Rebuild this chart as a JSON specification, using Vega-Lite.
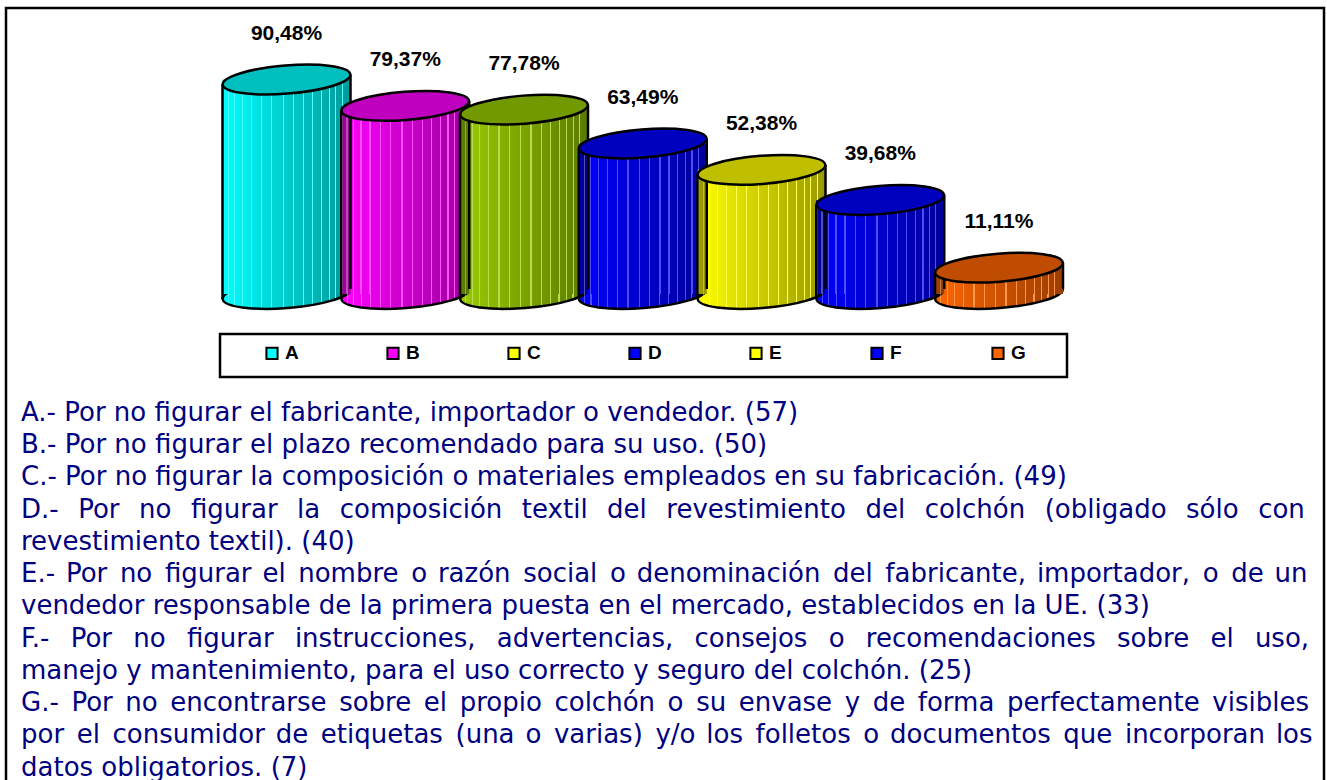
{
  "$schema": "https://vega.github.io/schema/vega-lite/v6.json",
  "width": 1318,
  "height": 772,
  "autosize": "none",
  "padding": {"left": 6, "top": 8, "right": 3, "bottom": 0},
  "background": "white",
  "config": {"view": {"stroke": "#000", "strokeWidth": 2.5, "strokeDash": [2090, 1318, 772]}},
  "datasets": {
    "bars": [
      {"k": "A", "i": 1, "v": 90.48, "label": "90,48%"},
      {"k": "B", "i": 2, "v": 79.37, "label": "79,37%"},
      {"k": "C", "i": 3, "v": 77.78, "label": "77,78%"},
      {"k": "D", "i": 4, "v": 63.49, "label": "63,49%"},
      {"k": "E", "i": 5, "v": 52.38, "label": "52,38%"},
      {"k": "F", "i": 6, "v": 39.68, "label": "39,68%"},
      {"k": "G", "i": 7, "v": 11.11, "label": "11,11%"}
    ],
    "lines": [
      {"line": 0, "t": "A.- Por no figurar el fabricante, importador o vendedor. (57)"},
      {"line": 1, "t": "B.- Por no figurar el plazo recomendado para su uso. (50)"},
      {"line": 2, "t": "C.- Por no figurar la composición o materiales empleados en su fabricación. (49)"},
      {"line": 3, "t": "D.-\u2002\u2005Por\u2002\u2005no\u2002\u2005figurar\u2002\u2005la\u2002\u2005composición\u2002\u2005textil\u2002\u2005del\u2002\u2005revestimiento\u2002\u2005del\u2002\u2005colchón\u2002\u2005(obligado\u2002\u2005sólo\u2002\u2005con"},
      {"line": 4, "t": "revestimiento textil). (40)"},
      {"line": 5, "t": "E.- \u200APor \u2006no \u2006figurar \u200Ael \u2006nombre \u2006o \u200Arazón \u2006social \u2006o \u200Adenominación \u2006del \u2006fabricante, \u200Aimportador, \u2006o \u2006de \u200Aun"},
      {"line": 6, "t": "vendedor responsable de la primera puesta en el mercado, establecidos en la UE. (33)"},
      {"line": 7, "t": "F.-\u2002\u2008Por\u2002\u2008no\u2002\u2008figurar\u2002\u2008instrucciones,\u2002\u2008advertencias,\u2002\u2008consejos\u2002\u2008o\u2002\u2008recomendaciones\u2002\u2008sobre\u2002\u2008el\u2002\u2008uso,"},
      {"line": 8, "t": "manejo y mantenimiento, para el uso correcto y seguro del colchón. (25)"},
      {"line": 9, "t": "G.- \u2006Por \u2006no \u2006encontrarse \u2006sobre \u2006el \u2006propio \u2006colchón \u2006o \u2006su \u2006envase \u2006y \u2006de \u2006forma \u2006perfectamente \u2006visibles"},
      {"line": 10, "t": "por \u2006el \u2006consumidor \u200Ade \u2006etiquetas \u2006(una \u200Ao \u2006varias) \u2006y/o \u200Alos \u2006folletos \u2006o \u200Adocumentos \u2006que \u2006incorporan \u200Alos"},
      {"line": 11, "t": "datos obligatorios. (7)"}
    ]
  },
  "layer": [
    {
      "data": {"name": "bars"},
      "encoding": {
        "x": {"field": "i", "type": "quantitative", "scale": {"domain": [1, 7], "range": [275.5, 998], "nice": false, "zero": false}, "axis": null}
      },
      "layer": [
        {
          "mark": {"type": "point", "shape": "M0.9969,-0.0785C1.0065,0.0426,0.5679,0.176,0.0173,0.2193C-0.5333,0.2626,-0.9874,0.1996,-0.9969,0.0785C-1.0065,-0.0426,-0.5679,-0.176,-0.0173,-0.2193C0.5333,-0.2626,0.9874,-0.1996,0.9969,-0.0785Z", "size": 16384, "filled": true, "opacity": 1, "strokeWidth": 0},
          "encoding": {
            "y": {"datum": 0, "type": "quantitative", "scale": {"domain": [0, 100], "range": [286, 49], "nice": false, "zero": false}, "axis": null},
            "fill": {"field": "k", "type": "nominal", "scale": {"domain": ["A", "B", "C", "D", "E", "F", "G"], "range": ["#00FFFF", "#FF00FF", "#99CC00", "#0000FF", "#FFFF00", "#0000FF", "#FF6600"]}, "legend": null}
          }
        },
        {
          "mark": {"type": "point", "shape": "M0.9969,-0.0785C1.0065,0.0426,0.5679,0.176,0.0173,0.2193C-0.5333,0.2626,-0.9874,0.1996,-0.9969,0.0785C-1.0065,-0.0426,-0.5679,-0.176,-0.0173,-0.2193C0.5333,-0.2626,0.9874,-0.1996,0.9969,-0.0785Z", "size": 16384, "filled": true, "opacity": 1,
            "fill": {"gradient": "linear", "x1": 0, "y1": 0, "x2": 1, "y2": 0, "stops": [
              {"offset": 0, "color": "rgba(0,0,0,0)"},
              {"offset": 0.04, "color": "rgba(0,0,0,0.016)"}, {"offset": 0.04, "color": "rgba(255,255,255,0.3)"}, {"offset": 0.049, "color": "rgba(255,255,255,0.3)"}, {"offset": 0.049, "color": "rgba(0,0,0,0.0196)"},
              {"offset": 0.09, "color": "rgba(0,0,0,0.036)"}, {"offset": 0.09, "color": "rgba(255,255,255,0.3)"}, {"offset": 0.099, "color": "rgba(255,255,255,0.3)"}, {"offset": 0.099, "color": "rgba(0,0,0,0.0396)"},
              {"offset": 0.15, "color": "rgba(0,0,0,0.06)"}, {"offset": 0.15, "color": "rgba(255,255,255,0.3)"}, {"offset": 0.159, "color": "rgba(255,255,255,0.3)"}, {"offset": 0.159, "color": "rgba(0,0,0,0.0636)"},
              {"offset": 0.22, "color": "rgba(0,0,0,0.088)"}, {"offset": 0.22, "color": "rgba(255,255,255,0.3)"}, {"offset": 0.229, "color": "rgba(255,255,255,0.3)"}, {"offset": 0.229, "color": "rgba(0,0,0,0.0916)"},
              {"offset": 0.3, "color": "rgba(0,0,0,0.12)"}, {"offset": 0.3, "color": "rgba(255,255,255,0.3)"}, {"offset": 0.309, "color": "rgba(255,255,255,0.3)"}, {"offset": 0.309, "color": "rgba(0,0,0,0.1236)"},
              {"offset": 0.38, "color": "rgba(0,0,0,0.152)"}, {"offset": 0.38, "color": "rgba(255,255,255,0.3)"}, {"offset": 0.389, "color": "rgba(255,255,255,0.3)"}, {"offset": 0.389, "color": "rgba(0,0,0,0.1556)"},
              {"offset": 0.47, "color": "rgba(0,0,0,0.188)"}, {"offset": 0.47, "color": "rgba(255,255,255,0.3)"}, {"offset": 0.479, "color": "rgba(255,255,255,0.3)"}, {"offset": 0.479, "color": "rgba(0,0,0,0.1916)"},
              {"offset": 0.55, "color": "rgba(0,0,0,0.22)"}, {"offset": 0.55, "color": "rgba(255,255,255,0.3)"}, {"offset": 0.559, "color": "rgba(255,255,255,0.3)"}, {"offset": 0.559, "color": "rgba(0,0,0,0.2236)"},
              {"offset": 0.63, "color": "rgba(0,0,0,0.252)"}, {"offset": 0.63, "color": "rgba(255,255,255,0.3)"}, {"offset": 0.639, "color": "rgba(255,255,255,0.3)"}, {"offset": 0.639, "color": "rgba(0,0,0,0.2556)"},
              {"offset": 0.7, "color": "rgba(0,0,0,0.28)"}, {"offset": 0.7, "color": "rgba(255,255,255,0.3)"}, {"offset": 0.709, "color": "rgba(255,255,255,0.3)"}, {"offset": 0.709, "color": "rgba(0,0,0,0.2836)"},
              {"offset": 0.77, "color": "rgba(0,0,0,0.308)"}, {"offset": 0.77, "color": "rgba(255,255,255,0.3)"}, {"offset": 0.779, "color": "rgba(255,255,255,0.3)"}, {"offset": 0.779, "color": "rgba(0,0,0,0.3116)"},
              {"offset": 0.83, "color": "rgba(0,0,0,0.332)"}, {"offset": 0.83, "color": "rgba(255,255,255,0.3)"}, {"offset": 0.839, "color": "rgba(255,255,255,0.3)"}, {"offset": 0.839, "color": "rgba(0,0,0,0.3356)"},
              {"offset": 0.88, "color": "rgba(0,0,0,0.352)"}, {"offset": 0.88, "color": "rgba(255,255,255,0.3)"}, {"offset": 0.889, "color": "rgba(255,255,255,0.3)"}, {"offset": 0.889, "color": "rgba(0,0,0,0.3556)"},
              {"offset": 0.93, "color": "rgba(0,0,0,0.372)"}, {"offset": 0.93, "color": "rgba(255,255,255,0.3)"}, {"offset": 0.939, "color": "rgba(255,255,255,0.3)"}, {"offset": 0.939, "color": "rgba(0,0,0,0.3756)"},
              {"offset": 1, "color": "rgba(0,0,0,0.4)"}]},
            "stroke": "#000", "strokeWidth": 2.5},
          "encoding": {
            "y": {"datum": 0, "type": "quantitative", "scale": {"domain": [0, 100], "range": [286, 49], "nice": false, "zero": false}, "axis": null}
          }
        },
        {
          "mark": {"type": "bar", "size": 128},
          "encoding": {
            "y": {"field": "v", "type": "quantitative", "scale": {"domain": [0, 100], "range": [286, 49], "nice": false, "zero": false}, "axis": null},
            "y2": {"datum": 0},
            "fill": {"field": "k", "type": "nominal", "scale": {"domain": ["A", "B", "C", "D", "E", "F", "G"], "range": ["#00FFFF", "#FF00FF", "#99CC00", "#0000FF", "#FFFF00", "#0000FF", "#FF6600"]}, "legend": null}
          }
        },
        {
          "mark": {"type": "bar", "size": 128,
            "fill": {"gradient": "linear", "x1": 0, "y1": 0, "x2": 1, "y2": 0, "stops": [
              {"offset": 0, "color": "rgba(0,0,0,0)"},
              {"offset": 0.04, "color": "rgba(0,0,0,0.016)"}, {"offset": 0.04, "color": "rgba(255,255,255,0.3)"}, {"offset": 0.049, "color": "rgba(255,255,255,0.3)"}, {"offset": 0.049, "color": "rgba(0,0,0,0.0196)"},
              {"offset": 0.09, "color": "rgba(0,0,0,0.036)"}, {"offset": 0.09, "color": "rgba(255,255,255,0.3)"}, {"offset": 0.099, "color": "rgba(255,255,255,0.3)"}, {"offset": 0.099, "color": "rgba(0,0,0,0.0396)"},
              {"offset": 0.15, "color": "rgba(0,0,0,0.06)"}, {"offset": 0.15, "color": "rgba(255,255,255,0.3)"}, {"offset": 0.159, "color": "rgba(255,255,255,0.3)"}, {"offset": 0.159, "color": "rgba(0,0,0,0.0636)"},
              {"offset": 0.22, "color": "rgba(0,0,0,0.088)"}, {"offset": 0.22, "color": "rgba(255,255,255,0.3)"}, {"offset": 0.229, "color": "rgba(255,255,255,0.3)"}, {"offset": 0.229, "color": "rgba(0,0,0,0.0916)"},
              {"offset": 0.3, "color": "rgba(0,0,0,0.12)"}, {"offset": 0.3, "color": "rgba(255,255,255,0.3)"}, {"offset": 0.309, "color": "rgba(255,255,255,0.3)"}, {"offset": 0.309, "color": "rgba(0,0,0,0.1236)"},
              {"offset": 0.38, "color": "rgba(0,0,0,0.152)"}, {"offset": 0.38, "color": "rgba(255,255,255,0.3)"}, {"offset": 0.389, "color": "rgba(255,255,255,0.3)"}, {"offset": 0.389, "color": "rgba(0,0,0,0.1556)"},
              {"offset": 0.47, "color": "rgba(0,0,0,0.188)"}, {"offset": 0.47, "color": "rgba(255,255,255,0.3)"}, {"offset": 0.479, "color": "rgba(255,255,255,0.3)"}, {"offset": 0.479, "color": "rgba(0,0,0,0.1916)"},
              {"offset": 0.55, "color": "rgba(0,0,0,0.22)"}, {"offset": 0.55, "color": "rgba(255,255,255,0.3)"}, {"offset": 0.559, "color": "rgba(255,255,255,0.3)"}, {"offset": 0.559, "color": "rgba(0,0,0,0.2236)"},
              {"offset": 0.63, "color": "rgba(0,0,0,0.252)"}, {"offset": 0.63, "color": "rgba(255,255,255,0.3)"}, {"offset": 0.639, "color": "rgba(255,255,255,0.3)"}, {"offset": 0.639, "color": "rgba(0,0,0,0.2556)"},
              {"offset": 0.7, "color": "rgba(0,0,0,0.28)"}, {"offset": 0.7, "color": "rgba(255,255,255,0.3)"}, {"offset": 0.709, "color": "rgba(255,255,255,0.3)"}, {"offset": 0.709, "color": "rgba(0,0,0,0.2836)"},
              {"offset": 0.77, "color": "rgba(0,0,0,0.308)"}, {"offset": 0.77, "color": "rgba(255,255,255,0.3)"}, {"offset": 0.779, "color": "rgba(255,255,255,0.3)"}, {"offset": 0.779, "color": "rgba(0,0,0,0.3116)"},
              {"offset": 0.83, "color": "rgba(0,0,0,0.332)"}, {"offset": 0.83, "color": "rgba(255,255,255,0.3)"}, {"offset": 0.839, "color": "rgba(255,255,255,0.3)"}, {"offset": 0.839, "color": "rgba(0,0,0,0.3356)"},
              {"offset": 0.88, "color": "rgba(0,0,0,0.352)"}, {"offset": 0.88, "color": "rgba(255,255,255,0.3)"}, {"offset": 0.889, "color": "rgba(255,255,255,0.3)"}, {"offset": 0.889, "color": "rgba(0,0,0,0.3556)"},
              {"offset": 0.93, "color": "rgba(0,0,0,0.372)"}, {"offset": 0.93, "color": "rgba(255,255,255,0.3)"}, {"offset": 0.939, "color": "rgba(255,255,255,0.3)"}, {"offset": 0.939, "color": "rgba(0,0,0,0.3756)"},
              {"offset": 1, "color": "rgba(0,0,0,0.4)"}]}},
          "encoding": {
            "y": {"field": "v", "type": "quantitative", "scale": {"domain": [0, 100], "range": [286, 49], "nice": false, "zero": false}, "axis": null},
            "y2": {"datum": 0}
          }
        },
        {
          "mark": {"type": "rule", "xOffset": -64, "yOffset": 5, "y2Offset": 5, "stroke": "#000", "strokeWidth": 2.5},
          "encoding": {
            "y": {"field": "v", "type": "quantitative", "scale": {"domain": [0, 100], "range": [286, 49], "nice": false, "zero": false}, "axis": null},
            "y2": {"datum": 0}
          }
        },
        {
          "mark": {"type": "rule", "xOffset": 64, "yOffset": -5, "y2Offset": -5, "stroke": "#000", "strokeWidth": 2.5},
          "encoding": {
            "y": {"field": "v", "type": "quantitative", "scale": {"domain": [0, 100], "range": [286, 49], "nice": false, "zero": false}, "axis": null},
            "y2": {"datum": 0}
          }
        },
        {
          "mark": {"type": "point", "shape": "M0.9969,-0.0785C1.0065,0.0426,0.5679,0.176,0.0173,0.2193C-0.5333,0.2626,-0.9874,0.1996,-0.9969,0.0785C-1.0065,-0.0426,-0.5679,-0.176,-0.0173,-0.2193C0.5333,-0.2626,0.9874,-0.1996,0.9969,-0.0785Z", "size": 16384, "filled": true, "opacity": 1, "strokeWidth": 0},
          "encoding": {
            "y": {"field": "v", "type": "quantitative", "scale": {"domain": [0, 100], "range": [286, 49], "nice": false, "zero": false}, "axis": null},
            "fill": {"field": "k", "type": "nominal", "scale": {"domain": ["A", "B", "C", "D", "E", "F", "G"], "range": ["#00FFFF", "#FF00FF", "#99CC00", "#0000FF", "#FFFF00", "#0000FF", "#FF6600"]}, "legend": null}
          }
        },
        {
          "mark": {"type": "point", "shape": "M0.9969,-0.0785C1.0065,0.0426,0.5679,0.176,0.0173,0.2193C-0.5333,0.2626,-0.9874,0.1996,-0.9969,0.0785C-1.0065,-0.0426,-0.5679,-0.176,-0.0173,-0.2193C0.5333,-0.2626,0.9874,-0.1996,0.9969,-0.0785Z", "size": 16384, "filled": true, "opacity": 1, "fill": "#000", "fillOpacity": 0.25, "stroke": "#000", "strokeOpacity": 1, "strokeWidth": 2.5},
          "encoding": {
            "y": {"field": "v", "type": "quantitative", "scale": {"domain": [0, 100], "range": [286, 49], "nice": false, "zero": false}, "axis": null}
          }
        },
        {
          "mark": {"type": "text", "align": "center", "baseline": "alphabetic", "dy": -40, "font": "Liberation Sans", "fontWeight": "bold", "fontSize": 21, "fill": "#000"},
          "encoding": {
            "y": {"field": "v", "type": "quantitative", "scale": {"domain": [0, 100], "range": [286, 49], "nice": false, "zero": false}, "axis": null},
            "text": {"field": "label"}
          }
        }
      ]
    },
    {
      "layer": [
        {
          "data": {"values": [{"box": 1}]},
          "mark": {"type": "rect", "filled": false, "stroke": "#000", "strokeWidth": 2.5},
          "encoding": {
            "x": {"datum": 0.5, "type": "quantitative", "scale": {"domain": [0.5, 7.5], "range": [214, 1061], "nice": false, "zero": false}, "axis": null},
            "x2": {"datum": 7.5},
            "y": {"datum": 0, "type": "quantitative", "scale": {"domain": [0, 1], "range": [369, 326], "nice": false, "zero": false}, "axis": null},
            "y2": {"datum": 1}
          }
        },
        {
          "data": {"name": "bars"},
          "mark": {"type": "point", "shape": "square", "size": 125, "filled": true, "opacity": 1, "stroke": "#000", "strokeWidth": 2, "xOffset": -8.5},
          "encoding": {
            "x": {"field": "i", "type": "quantitative", "scale": {"domain": [0.5, 7.5], "range": [214, 1061], "nice": false, "zero": false}, "axis": null},
            "y": {"datum": 0.55, "type": "quantitative", "scale": {"domain": [0, 1], "range": [369, 326], "nice": false, "zero": false}, "axis": null},
            "fill": {"field": "k", "type": "nominal", "scale": {"domain": ["A", "B", "C", "D", "E", "F", "G"], "range": ["#00FFFF", "#FF00FF", "#FFFF00", "#0000FF", "#FFFF00", "#0000FF", "#FF6600"]}, "legend": null}
          }
        },
        {
          "data": {"name": "bars"},
          "mark": {"type": "text", "align": "left", "baseline": "middle", "dx": 4.5, "font": "Liberation Sans", "fontWeight": "bold", "fontSize": 19, "fill": "#000"},
          "encoding": {
            "x": {"field": "i", "type": "quantitative", "scale": {"domain": [0.5, 7.5], "range": [214, 1061], "nice": false, "zero": false}, "axis": null},
            "y": {"datum": 0.55, "type": "quantitative", "scale": {"domain": [0, 1], "range": [369, 326], "nice": false, "zero": false}, "axis": null},
            "text": {"field": "k"}
          }
        }
      ]
    },
    {
      "data": {"name": "lines"},
      "mark": {"type": "text", "align": "left", "baseline": "alphabetic", "font": "DejaVu Sans", "fontSize": 26, "fill": "#000080"},
      "encoding": {
        "x": {"datum": 0, "type": "quantitative", "scale": {"domain": [0, 1], "range": [15, 1301], "nice": false, "zero": false}, "axis": null},
        "y": {"field": "line", "type": "quantitative", "scale": {"domain": [0, 11], "range": [413, 767.5], "nice": false, "zero": false}, "axis": null},
        "text": {"field": "t"}
      }
    }
  ],
  "resolve": {"scale": {"x": "independent", "y": "independent", "fill": "independent"}}
}
